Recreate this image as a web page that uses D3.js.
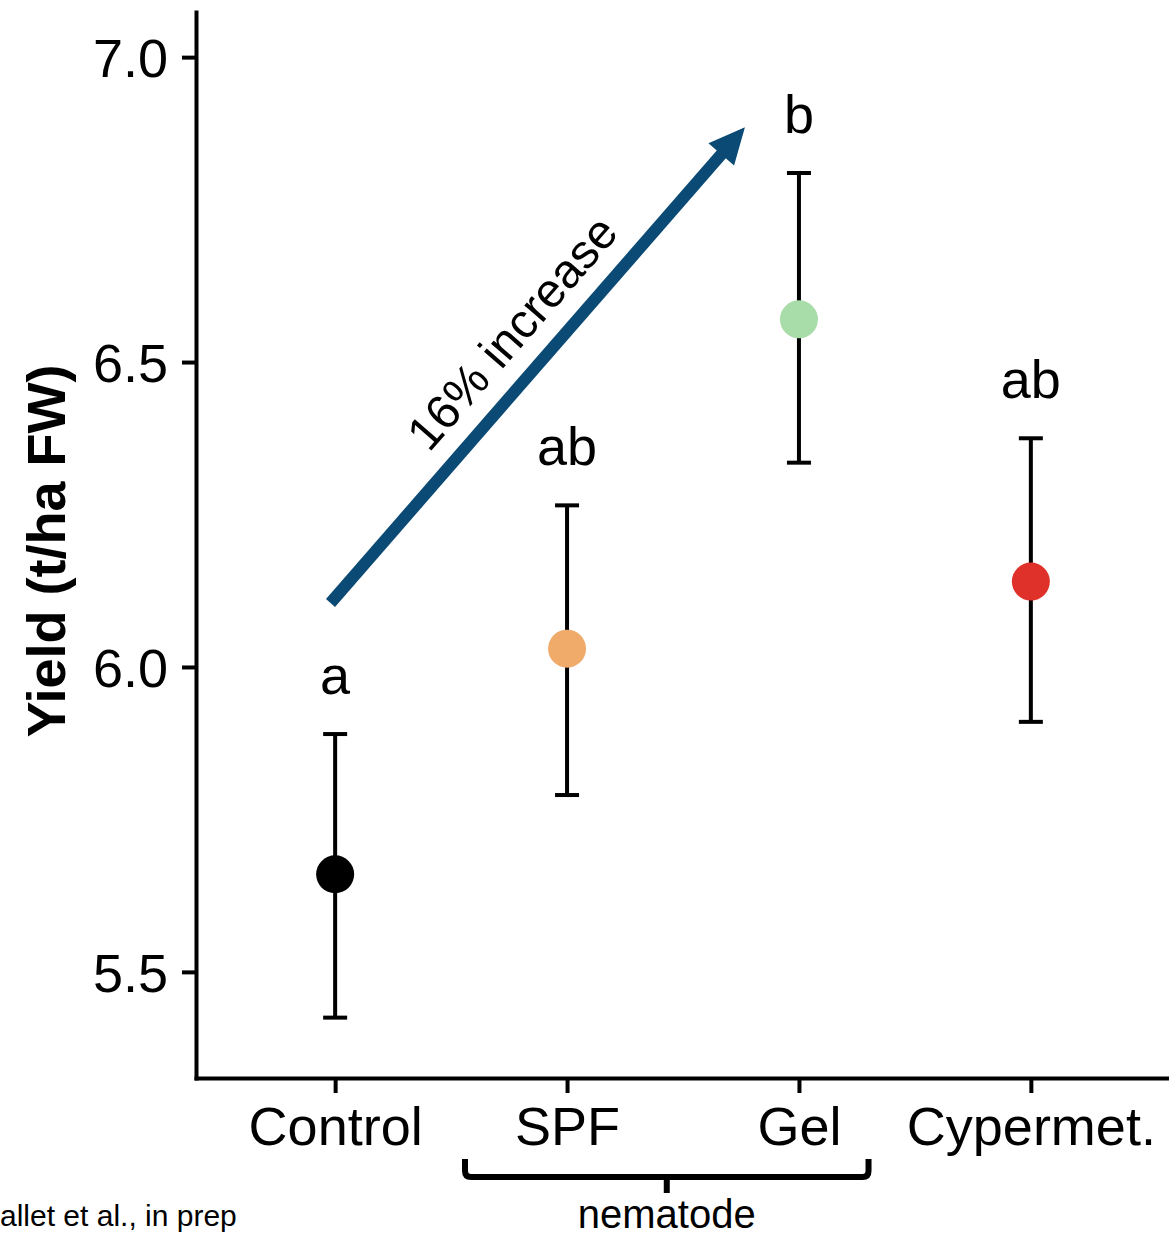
<!DOCTYPE html>
<html>
<head>
<meta charset="utf-8">
<script src="https://cdn.jsdelivr.net/npm/d3@7"></script>
<style>
  body { margin: 0; background: #fff; }
  svg { display: block; font-family: "Liberation Sans", Arial, sans-serif; }
</style>
</head>
<body>
<svg id="chart" width="1169" height="1235"></svg>
<script>
// treatments and yield (t/ha FW), mean with interval
const groups = ["Control", "SPF", "Gel", "Cypermet."]
const means = [5.66, 6.03, 6.57, 6.14]
const lower = [5.425, 5.79, 6.335, 5.91]
const upper = [5.89, 6.265, 6.81, 6.375]
const letters = ["a", "ab", "b", "ab"]
const colors = ["#000000", "#f0aa6a", "#a8dca8", "#e0302a"]
const y_ticks = [5.5, 6.0, 6.5, 7.0]

// arrow annotation (group index, yield)
const arrow_from = [-0.02, 6.105]
const arrow_to = [1.767, 6.885]
const arrow_label = "16% increase"
// bracket under the nematode treatments (group index)
const bracket_span = [0.56, 2.30]
const bracket_label = "nematode"
const citation = "allet et al., in prep"

const plot_left = 196, plot_bottom = 1078, plot_top = 12, plot_right = 1170

const svg = d3.select("#chart")

const x = d3.scalePoint().domain(groups).range([plot_left, plot_right]).padding(0.6)
const xi = d3.scaleLinear().domain([0, groups.length - 1])
	.range([x(groups[0]), x(groups[groups.length - 1])])
const y = d3.scaleLinear().domain([5.326, 7.074]).range([plot_bottom, plot_top])

// axes
const yAxis = svg.append("g")
	.attr("transform", `translate(${plot_left},0)`)
	.call(d3.axisLeft(y).tickValues(y_ticks).tickFormat(d3.format(".1f"))
		.tickSize(14).tickSizeOuter(0).tickPadding(14))
const xAxis = svg.append("g")
	.attr("transform", `translate(0,${plot_bottom})`)
	.call(d3.axisBottom(x).tickSize(15).tickSizeOuter(0).tickPadding(14))

for (const g of [yAxis, xAxis]) {
	g.select(".domain").attr("stroke", "#000").attr("stroke-width", 4).attr("stroke-linecap", "square")
	g.selectAll(".tick line").attr("stroke", "#000").attr("stroke-width", 4)
	g.selectAll(".tick text").attr("fill", "#000").attr("font-size", 54)
		.attr("font-family", "'Liberation Sans', Arial, sans-serif")
}
yAxis.selectAll(".tick text").attr("dy", "0.36em")

svg.append("text")
	.attr("transform", `translate(65,${(plot_top + plot_bottom) / 2 + 6}) rotate(-90)`)
	.attr("text-anchor", "middle")
	.attr("font-size", 54)
	.attr("font-weight", "bold")
	.text("Yield (t/ha FW)")

// error bars
const bars = svg.append("g").classed("errorbars", true)
bars.selectAll("line.whisker")
	.data(groups).enter().append("line")
	.classed("whisker", true)
	.attr("x1", (d) => x(d)).attr("x2", (d) => x(d))
	.attr("y1", (d, i) => y(lower[i])).attr("y2", (d, i) => y(upper[i]))
	.attr("stroke", "#000").attr("stroke-width", 4)

for (const ends of [lower, upper]) {
	bars.selectAll(null)
		.data(groups).enter().append("line")
		.attr("x1", (d) => x(d) - 12).attr("x2", (d) => x(d) + 12)
		.attr("y1", (d, i) => y(ends[i])).attr("y2", (d, i) => y(ends[i]))
		.attr("stroke", "#000").attr("stroke-width", 4)
}

// points
svg.append("g").selectAll("circle")
	.data(groups).enter().append("circle")
	.attr("cx", (d) => x(d))
	.attr("cy", (d, i) => y(means[i]))
	.attr("r", 19)
	.attr("fill", (d, i) => colors[i])

// significance letters
svg.append("g").selectAll("text")
	.data(groups).enter().append("text")
	.attr("x", (d) => x(d))
	.attr("y", (d, i) => y(upper[i]) - 40)
	.attr("text-anchor", "middle")
	.attr("font-size", 54)
	.text((d, i) => letters[i])

// arrow
const p0 = [xi(arrow_from[0]), y(arrow_from[1])]
const p1 = [xi(arrow_to[0]), y(arrow_to[1])]
const len = Math.hypot(p1[0] - p0[0], p1[1] - p0[1])
const dir = [(p1[0] - p0[0]) / len, (p1[1] - p0[1]) / len]
const nrm = [dir[1], -dir[0]]   // points up-left
const head_len = 36, head_half = 17
const base = [p1[0] - dir[0] * head_len, p1[1] - dir[1] * head_len]
const arrow_col = "#0b4a75"

svg.append("line")
	.attr("x1", p0[0]).attr("y1", p0[1])
	.attr("x2", base[0] + dir[0] * 4).attr("y2", base[1] + dir[1] * 4)
	.attr("stroke", arrow_col).attr("stroke-width", 12)
svg.append("path")
	.attr("d", d3.line()([
		p1,
		[base[0] + nrm[0] * head_half, base[1] + nrm[1] * head_half],
		[base[0] - nrm[0] * head_half, base[1] - nrm[1] * head_half]
	]) + "Z")
	.attr("fill", arrow_col)

const angle = Math.atan2(dir[1], dir[0]) * 180 / Math.PI
const along = 323, off = 24
const tp = [p0[0] + dir[0] * along + nrm[0] * off, p0[1] + dir[1] * along + nrm[1] * off]
svg.append("text")
	.attr("transform", `translate(${tp[0]},${tp[1]}) rotate(${angle})`)
	.attr("text-anchor", "middle")
	.attr("font-size", 48)
	.text(arrow_label)

// nematode bracket
const bx0 = xi(bracket_span[0]), bx1 = xi(bracket_span[1])
const bmid = (bx0 + bx1) / 2
const by = 1177, rr = 6
svg.append("path")
	.attr("d", `M${bx0},1159 V${by - rr} Q${bx0},${by} ${bx0 + rr},${by} H${bx1 - rr} Q${bx1},${by} ${bx1},${by - rr} V1159
		M${bmid},${by} V1193`)
	.attr("fill", "none").attr("stroke", "#000").attr("stroke-width", 6)

svg.append("text")
	.attr("x", bmid).attr("y", 1228)
	.attr("text-anchor", "middle")
	.attr("font-size", 40)
	.text(bracket_label)

svg.append("text")
	.attr("x", 0).attr("y", 1226)
	.attr("font-size", 30)
	.text(citation)
</script>
</body>
</html>
